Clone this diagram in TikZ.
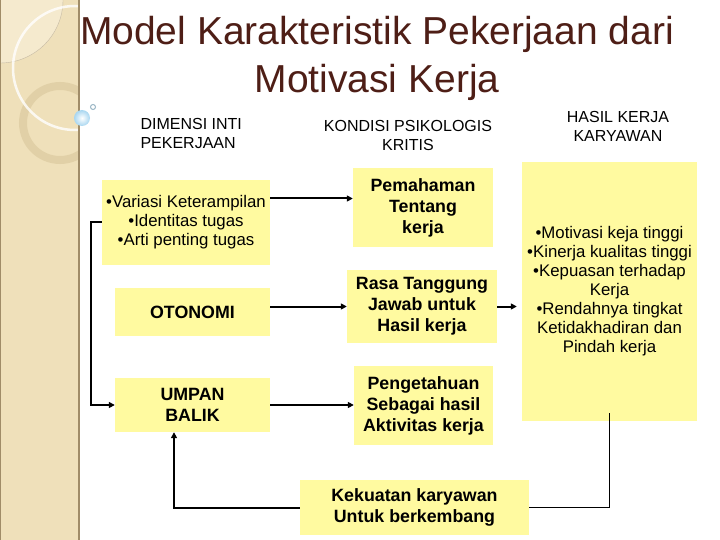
\documentclass[tikz,border=0pt]{standalone}
\usepackage{fontspec}
\setmainfont{Liberation Sans}
\usepackage{tikz}
\usetikzlibrary{arrows.meta}
\usepackage{xcolor}

\definecolor{kuning}{RGB}{255,250,160}
\definecolor{krem}{RGB}{239,224,186}
\definecolor{kremmuda}{RGB}{245,234,206}
\definecolor{cincin}{RGB}{222,205,163}
\definecolor{tepi}{RGB}{160,140,104}
\definecolor{judul}{RGB}{78,30,22}
\definecolor{biru}{RGB}{168,214,240}

\tikzset{
  kotak/.style={fill=kuning, inner sep=0pt, align=center},
  isi/.style={font=\fontsize{16.8}{19}\selectfont},
  tebal/.style={font=\bfseries\fontsize{17.8}{21}\selectfont},
  kepala/.style={font=\fontsize{16}{19}\selectfont},
  panah/.style={-{Triangle[length=6pt,width=6pt]}, line width=2pt},
}

\begin{document}
\begin{tikzpicture}[x=1pt, y=-1pt]
  \useasboundingbox (0,0) rectangle (720,540);

  \begin{scope}
    \clip (0,0) rectangle (79,540);
    \fill[krem] (0,0) rectangle (79,540);
    \fill[kremmuda, draw=tepi!60, thin] (0,0) circle (63);
    \draw[cincin, line width=8pt, opacity=.8] (60,123) circle (37);
    \draw[white, line width=2.5pt, opacity=.8] (75,68) circle (62);
  \end{scope}
  \draw[tepi, line width=1.5pt] (79,0) -- (79,540);
  \draw[tepi, line width=1pt] (0.5,0) -- (0.5,540);
  \shade[inner color=white, outer color=biru] (82,118) circle (8);
  \draw[biru!60!gray, line width=1pt] (93,107) circle (2.5);

  \node[text=judul, align=center, font=\fontsize{39}{48}\selectfont]
    (title) at (377,58) {Model Karakteristik Pekerjaan dari\\Motivasi Kerja};

  \node[kepala, anchor=west, align=left] (hdim) at (137,133) {DIMENSI INTI\\PEKERJAAN};
  \node[kepala, align=center] (hkond) at (408,135) {KONDISI PSIKOLOGIS\\KRITIS};
  \node[kepala, align=center] (hhasil) at (618,126) {HASIL KERJA\\KARYAWAN};

  \node[kotak, isi, minimum width=168, minimum height=85] (var) at (186,222.5)
    {•Variasi Keterampilan\\•Identitas tugas\\•Arti penting tugas};
  \node[kotak, tebal, minimum width=155, minimum height=48] (oto) at (192.5,312) {OTONOMI};
  \node[kotak, tebal, minimum width=155, minimum height=54] (ump) at (192.5,405) {UMPAN\\BALIK};

  \node[kotak, tebal, minimum width=140, minimum height=79] (pem) at (423,207.5)
    {Pemahaman\\Tentang\\kerja};
  \node[kotak, tebal, minimum width=150, minimum height=73] (rasa) at (422,306.5)
    {Rasa Tanggung\\Jawab untuk\\Hasil kerja};
  \node[kotak, tebal, minimum width=139, minimum height=79] (peng) at (423.5,405.5)
    {Pengetahuan\\Sebagai hasil\\Aktivitas kerja};

  \node[kotak, isi, minimum width=175, minimum height=259] (hasil) at (609.5,291.5)
    {•Motivasi keja tinggi\\•Kinerja kualitas tinggi\\•Kepuasan terhadap\\Kerja\\•Rendahnya tingkat\\Ketidakhadiran dan\\Pindah kerja};

  \node[kotak, tebal, minimum width=229, minimum height=55] (kek) at (414.5,507.5)
    {Kekuatan karyawan\\Untuk berkembang};

  \coordinate (vout) at ([yshift=24pt]var.east);
  \draw[panah] (vout) -- (vout -| pem.west);
  \draw[panah] (oto.east |- rasa.west) -- (rasa.west);
  \draw[panah] (ump.east) -- (ump.east -| peng.west);
  \draw[panah, shorten >=5pt] (rasa.east) -- (rasa.east -| hasil.west);

  \draw[panah] (var.west) -- ++(-11,0) |- (ump.west);

  \draw[line width=1pt] ([yshift=8pt]hasil.south) |- (kek.east);
  \draw[panah] (kek.west) -| ([xshift=-18.5pt]ump.south);
\end{tikzpicture}
\end{document}
